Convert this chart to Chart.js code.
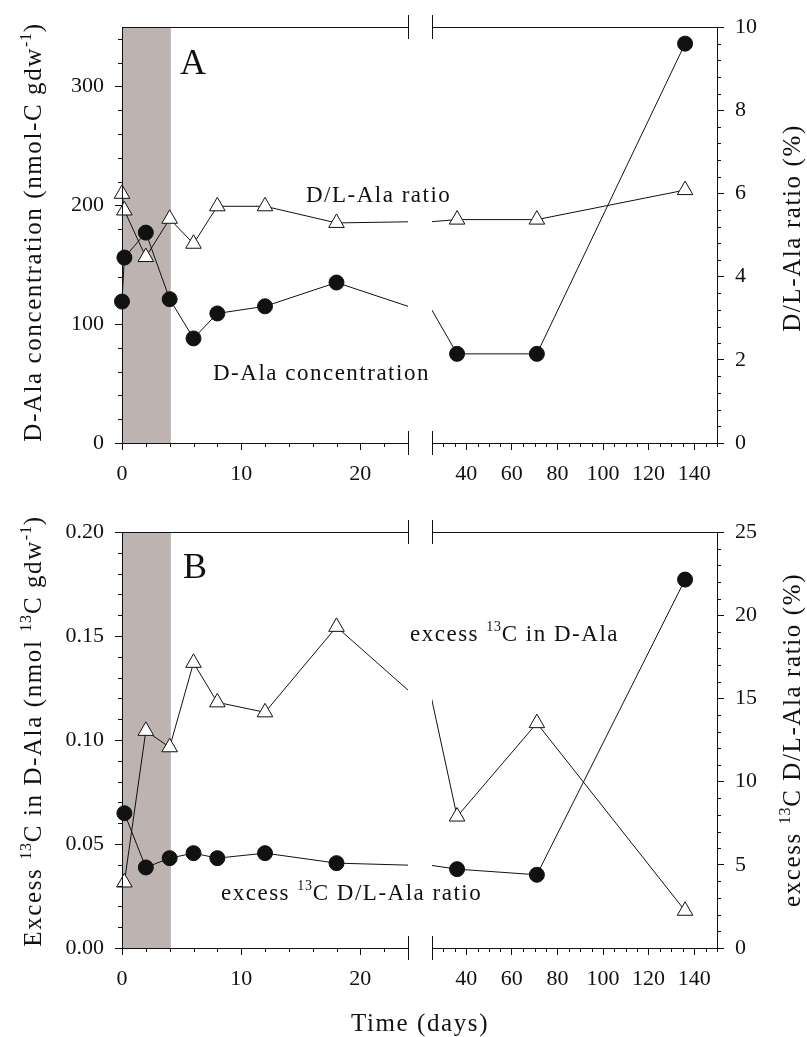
<!DOCTYPE html>
<html>
<head>
<meta charset="utf-8">
<title>D-Ala time course</title>
<script src="https://cdn.jsdelivr.net/npm/chart.js@4.4.1/dist/chart.umd.min.js"></script>
<style>
  html, body { margin: 0; padding: 0; background: #fff; }
  .panel { position: absolute; left: 0; width: 807px; }
  #panelA { top: 0; height: 480px; }
  #panelB { top: 480px; height: 557px; }
</style>
</head>
<body>
<div class="panel" id="panelA"><canvas id="chartA" width="807" height="480"></canvas></div>
<div class="panel" id="panelB"><canvas id="chartB" width="807" height="557"></canvas></div>
<script>
// ---- values ----
// panel A
const daysA = [0, 0.2, 2, 4, 6, 8, 12, 18, 36, 71, 136];
const dAlaConc = [119, 156, 177, 121, 88, 109, 115, 135, 75, 75, 336];                 // nmol-C gdw-1 (left)
const dlAlaRatio = [5.99, 5.59, 4.47, 5.39, 4.79, 5.69, 5.69, 5.29, 5.37, 5.37, 6.08]; // % (right)
// panel B
const daysB = [0.2, 2, 4, 6, 8, 12, 18, 36, 71, 136];
const excess13C = [0.0315, 0.1044, 0.0965, 0.1371, 0.1181, 0.1133, 0.1544, 0.0632, 0.1081, 0.0179]; // left
const excess13CRatio = [8.1, 4.84, 5.4, 5.7, 5.4, 5.7, 5.1, 4.74, 4.4, 22.14];                      // right

// ---- axes ----
const dayRangeL = [0, 24];
const dayRangeR = [25, 150];
const dayTicksL = [0, 10, 20];
const dayTicksR = [40, 60, 80, 100, 120, 140];
const concTicks = [0, 100, 200, 300];
const ratioTicksA = [0, 2, 4, 6, 8, 10];
const excessTicks = [0, 0.05, 0.10, 0.15, 0.20];
const ratioTicksB = [0, 5, 10, 15, 20, 25];
const pulsePeriod = [0, 4.1];   // shaded labelling period (days)

const FONT = "'Liberation Serif', 'DejaVu Serif', serif";
const INK = '#111';
const BAND = 'rgb(189,179,176)';

// minor tick positions between the labelled ones
function minorTicks(from, to, step, majorStep) {
  const out = [];
  for (let v = from; v <= to + 1e-9; v += step) {
    const r = v / majorStep;
    if (Math.abs(r - Math.round(r)) > 1e-6) out.push(+v.toFixed(4));
  }
  return out;
}

function seriesData(days, vals) {
  return days.map((d, i) => ({x: d, y: vals[i]}));
}

const circleStyle = {
  pointStyle: 'circle', pointRadius: 7.5, pointBackgroundColor: INK, pointBorderColor: INK,
  pointBorderWidth: 1, borderColor: INK, borderWidth: 1, fill: false, tension: 0
};
const triangleStyle = {
  pointStyle: 'triangle', pointRadius: 9, pointBackgroundColor: '#fff', pointBorderColor: INK,
  pointBorderWidth: 1, borderColor: INK, borderWidth: 1, fill: false, tension: 0
};

// each series is drawn once against each half of the broken time axis
function brokenSeries(label, days, vals, yAxisID, style) {
  const data = seriesData(days, vals);
  return ['xL', 'xR'].map(xAxisID =>
    Object.assign({label, data, xAxisID, yAxisID, clip: false}, style));
}

function xScale(range, weight, ticks, axisH) {
  return {
    type: 'linear', position: 'bottom', stack: 'days', stackWeight: weight,
    min: range[0], max: range[1],
    afterBuildTicks: s => { s.ticks = ticks.map(v => ({value: v})); },
    afterFit: s => { s.height = axisH; },
    ticks: {display: ticks.length > 0, font: {family: FONT, size: 22}, color: INK, padding: 11,
            maxRotation: 0, autoSkip: false, callback: v => String(v)},
    grid: {display: ticks.length > 0, drawOnChartArea: false, drawTicks: true, tickLength: 7, color: INK},
    border: {display: false}
  };
}

function yScale(position, max, ticks, width, fmt) {
  return {
    type: 'linear', position, min: 0, max,
    afterBuildTicks: s => { s.ticks = ticks.map(v => ({value: v})); },
    afterFit: s => { s.width = width; },
    ticks: {font: {family: FONT, size: 22}, color: INK, padding: 11, autoSkip: false, callback: fmt},
    grid: {display: true, drawOnChartArea: false, drawTicks: true, tickLength: 7, color: INK},
    border: {display: false}
  };
}

// text with superscripts: parts = [[text, isSup], ...]
function drawRich(ctx, parts, x, y, size, opt) {
  opt = opt || {};
  const supSize = Math.round(size * 0.62);
  const spacing = opt.spacing || 0;
  ctx.save();
  ctx.fillStyle = INK;
  ctx.textBaseline = 'alphabetic';
  ctx.textAlign = 'left';
  const widths = parts.map(([t, sup]) => {
    ctx.font = (sup ? supSize : size) + 'px ' + FONT;
    ctx.letterSpacing = (sup ? spacing * 0.5 : spacing) + 'px';
    return ctx.measureText(t).width;
  });
  const total = widths.reduce((a, b) => a + b, 0);
  ctx.translate(x, y);
  if (opt.rotate) ctx.rotate(opt.rotate);
  let cx = opt.center ? -total / 2 : 0;
  parts.forEach(([t, sup], i) => {
    ctx.font = (sup ? supSize : size) + 'px ' + FONT;
    ctx.letterSpacing = (sup ? spacing * 0.5 : spacing) + 'px';
    ctx.fillText(t, cx, sup ? -size * 0.42 : 0);
    cx += widths[i];
  });
  ctx.restore();
}

const brokenAxisPlugin = {
  id: 'brokenAxis',
  beforeDatasetsDraw(chart, args, o) {
    const {ctx, chartArea} = chart;
    const xs = chart.scales.xL;
    const x0 = xs.getPixelForValue(o.band[0]);
    const x1 = xs.getPixelForValue(o.band[1]);
    ctx.save();
    ctx.fillStyle = BAND;
    ctx.fillRect(x0, chartArea.top, x1 - x0, chartArea.bottom - chartArea.top);
    ctx.restore();
  },
  beforeDatasetDraw(chart, args) {
    const ctx = chart.ctx;
    const xs = chart.scales[args.meta.xAxisID];
    ctx.save();
    ctx.beginPath();
    if (args.meta.xAxisID === 'xL') ctx.rect(0, 0, xs.right, chart.height);
    else ctx.rect(xs.left, 0, chart.width - xs.left, chart.height);
    ctx.clip();
  },
  afterDatasetDraw(chart) {
    chart.ctx.restore();
  },
  afterDraw(chart, args, o) {
    const ctx = chart.ctx;
    const {top, bottom, left, right} = chart.chartArea;
    const L = chart.scales.xL, R = chart.scales.xR;
    const px = v => Math.round(v) + 0.5;
    const line = (x1, y1, x2, y2) => {
      ctx.beginPath(); ctx.moveTo(x1, y1); ctx.lineTo(x2, y2); ctx.stroke();
    };
    ctx.save();
    ctx.strokeStyle = INK;
    ctx.lineWidth = 1;
    // frame, interrupted at the break
    line(left, px(top), L.right, px(top));
    line(R.left, px(top), right, px(top));
    line(left, px(bottom), L.right, px(bottom));
    line(R.left, px(bottom), right, px(bottom));
    line(px(left), top, px(left), bottom);
    line(px(right), top, px(right), bottom);
    for (const x of [L.right, R.left]) {
      line(px(x), top - 12, px(x), top + 12);
      line(px(x), bottom - 12, px(x), bottom + 12);
    }
    // minor ticks
    const minorLen = 4;
    for (const [id, vals] of Object.entries(o.minor)) {
      const s = chart.scales[id];
      vals.forEach(v => {
        const p = px(s.getPixelForValue(v));
        if (id === 'xL' || id === 'xR') line(p, bottom, p, bottom + minorLen);
        else if (s.position === 'left') line(left - minorLen, p, left, p);
        else line(right, p, right + minorLen, p);
      });
    }
    ctx.restore();

    // in-plot labels and axis titles
    o.labels.forEach(l => drawRich(ctx, l.parts, l.x, l.y, l.size, {spacing: l.spacing}));
    o.titles.forEach(t => drawRich(ctx, t.parts, t.x, t.y, 25,
      {spacing: 1.6, center: true, rotate: t.rotate}));
  }
};

function makePanel(canvasId, cfg) {
  const axisH = cfg.height - cfg.plotBottom;
  return new Chart(document.getElementById(canvasId), {
    type: 'line',
    data: {datasets: cfg.datasets},
    options: {
      responsive: false,
      devicePixelRatio: 1,
      animation: false,
      events: [],
      layout: {padding: {top: cfg.plotTop, left: 0, right: 0, bottom: 0}},
      plugins: {
        legend: {display: false},
        tooltip: {enabled: false},
        brokenAxis: cfg.decor
      },
      scales: {
        xL: xScale(dayRangeL, 286, dayTicksL, axisH),
        xGap: xScale([0, 1], 24, [], axisH),
        xR: xScale(dayRangeR, 285, dayTicksR, axisH),
        yL: yScale('left', cfg.yLMax, cfg.yLTicks, 122, cfg.yLFmt),
        yR: yScale('right', cfg.yRMax, cfg.yRTicks, 90, v => String(v))
      }
    },
    plugins: [brokenAxisPlugin]
  });
}

const daysMinorL = minorTicks(2, 22, 2, 10);
const daysMinorR = minorTicks(30, 150, 5, 20);

makePanel('chartA', {
  height: 480, plotTop: 27, plotBottom: 443,
  yLMax: 350, yLTicks: concTicks, yLFmt: v => String(v),
  yRMax: 10, yRTicks: ratioTicksA,
  datasets: [
    ...brokenSeries('D/L-Ala ratio', daysA, dlAlaRatio, 'yR', triangleStyle),
    ...brokenSeries('D-Ala concentration', daysA, dAlaConc, 'yL', circleStyle)
  ],
  decor: {
    band: pulsePeriod,
    minor: {
      xL: daysMinorL, xR: daysMinorR,
      yL: minorTicks(20, 340, 20, 100),
      yR: minorTicks(0.4, 9.6, 0.4, 2)
    },
    labels: [
      {parts: [['A']], x: 180, y: 74, size: 36, spacing: 0},
      {parts: [['D/L-Ala ratio']], x: 306, y: 202, size: 23, spacing: 1.5},
      {parts: [['D-Ala concentration']], x: 213, y: 380, size: 23, spacing: 1.5}
    ],
    titles: [
      {parts: [['D-Ala concentration (nmol-C gdw'], ['-1', true], [')']], x: 41, y: 232, rotate: -Math.PI / 2},
      {parts: [['D/L-Ala ratio (%)']], x: 800, y: 228, rotate: -Math.PI / 2}
    ]
  }
});

makePanel('chartB', {
  height: 557, plotTop: 52, plotBottom: 468,
  yLMax: 0.2, yLTicks: excessTicks, yLFmt: v => v.toFixed(2),
  yRMax: 25, yRTicks: ratioTicksB,
  datasets: [
    ...brokenSeries('excess 13C in D-Ala', daysB, excess13C, 'yL', triangleStyle),
    ...brokenSeries('excess 13C D/L-Ala ratio', daysB, excess13CRatio, 'yR', circleStyle)
  ],
  decor: {
    band: pulsePeriod,
    minor: {
      xL: daysMinorL, xR: daysMinorR,
      yL: minorTicks(0.01, 0.19, 0.01, 0.05),
      yR: minorTicks(1, 24, 1, 5)
    },
    labels: [
      {parts: [['B']], x: 183, y: 98, size: 36, spacing: 0},
      {parts: [['excess '], ['13', true], ['C in D-Ala']], x: 410, y: 161, size: 23, spacing: 1.5},
      {parts: [['excess '], ['13', true], ['C D/L-Ala ratio']], x: 221, y: 420, size: 23, spacing: 1.5}
    ],
    titles: [
      {parts: [['Excess '], ['13', true], ['C in D-Ala (nmol '], ['13', true], ['C gdw'], ['-1', true], [')']],
       x: 41, y: 251, rotate: -Math.PI / 2},
      {parts: [['excess '], ['13', true], ['C D/L-Ala ratio (%)']], x: 800, y: 260, rotate: -Math.PI / 2},
      {parts: [['Time (days)']], x: 420, y: 551, rotate: 0}
    ]
  }
});
</script>
</body>
</html>
